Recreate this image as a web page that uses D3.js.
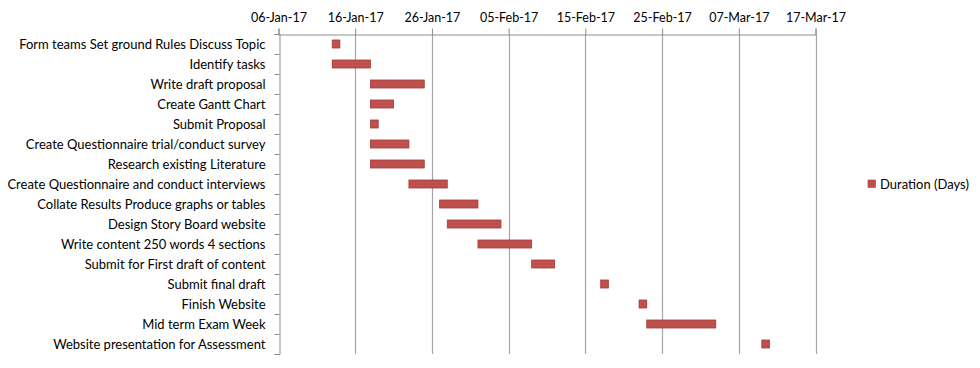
<!DOCTYPE html>
<html>
<head>
<meta charset="utf-8">
<script src="https://cdn.jsdelivr.net/npm/d3@7"></script>
<style>
  body { margin: 0; background: #fff; }
  text { font-family: Lato, "Open Sans", sans-serif; fill: #000; }
</style>
</head>
<body>
<div class="container"></div>
<script>
// tasks, start dates and durations (days)
const tasks = [
  'Form teams Set ground Rules Discuss Topic',
  'Identify tasks',
  'Write draft proposal',
  'Create Gantt Chart',
  'Submit Proposal',
  'Create Questionnaire trial/conduct survey',
  'Research existing Literature',
  'Create Questionnaire and conduct interviews',
  'Collate Results Produce graphs or tables',
  'Design Story Board website',
  'Write content 250 words 4 sections',
  'Submit for First draft of content',
  'Submit final draft',
  'Finish Website',
  'Mid term Exam Week',
  'Website presentation for Assessment'
];
const startDates = [
  '2017-01-13', '2017-01-13', '2017-01-18', '2017-01-18',
  '2017-01-18', '2017-01-18', '2017-01-18', '2017-01-23',
  '2017-01-27', '2017-01-28', '2017-02-01', '2017-02-08',
  '2017-02-17', '2017-02-22', '2017-02-23', '2017-03-10'
];
const durations = [1, 5, 7, 3, 1, 5, 7, 5, 5, 7, 7, 3, 1, 1, 9, 1];
const tickDates = ['2017-01-06', '2017-01-16', '2017-01-26', '2017-02-05',
                   '2017-02-15', '2017-02-25', '2017-03-07', '2017-03-17'];
const seriesName = 'Duration (Days)';

const width = 980, height = 368;
const plotLeft = 278.5, plotRight = 815.5, plotTop = 34, plotBottom = 354;
const day = 24 * 3600 * 1000;
const parse = d3.utcParse('%Y-%m-%d');

const data = tasks.map((name, i) => ({
  name: name,
  start: parse(startDates[i]),
  end: new Date(parse(startDates[i]).getTime() + durations[i] * day)
}));
const ticks = tickDates.map(parse);

const svg = d3.select('.container')
  .append('svg')
  .attr('width', width)
  .attr('height', height);

const x = d3.scaleUtc()
  .domain([ticks[0], ticks[ticks.length - 1]])
  .range([plotLeft, plotRight]);

const y = d3.scaleBand()
  .domain(tasks)
  .range([plotTop, plotBottom])
  .paddingInner(0.6)
  .paddingOuter(0.3);

// vertical gridlines
svg.append('g')
  .selectAll('line')
  .data(ticks.slice(1))
  .enter()
  .append('line')
  .attr('x1', d => Math.round(x(d)) + 0.5)
  .attr('x2', d => Math.round(x(d)) + 0.5)
  .attr('y1', plotTop)
  .attr('y2', plotBottom)
  .attr('stroke', '#a6a6a6')
  .attr('stroke-width', 1.2);

// top date axis
const xAxis = svg.append('g')
  .attr('transform', `translate(0,${plotTop + 0.5})`)
  .call(d3.axisTop(x).tickValues(ticks).tickFormat(d3.utcFormat('%d-%b-%y')).tickSizeOuter(0).tickSize(6).tickPadding(7));
xAxis.select('.domain').attr('stroke', '#8c8c8c');
xAxis.selectAll('.tick line').attr('stroke', '#8c8c8c');
xAxis.selectAll('.tick text').attr('font-size', '12.5px').attr('fill', '#000');

// left category axis: ticks on band boundaries
const yLin = d3.scaleLinear().domain([0, tasks.length]).range([plotTop, plotBottom]);
const yAxis = svg.append('g')
  .attr('transform', `translate(${Math.round(plotLeft) + 0.5},0)`)
  .call(d3.axisLeft(yLin).ticks(tasks.length).tickFormat('').tickSizeOuter(0).tickSize(5));
yAxis.select('.domain').attr('stroke', '#8c8c8c');
yAxis.selectAll('.tick line').attr('stroke', '#8c8c8c');

// category labels
svg.append('g')
  .selectAll('text')
  .data(tasks)
  .enter()
  .append('text')
  .attr('x', 265.5)
  .attr('y', d => y(d) + y.bandwidth() / 2)
  .attr('dy', '0.35em')
  .attr('text-anchor', 'end')
  .attr('font-size', '13px')
  .text(d => d);

// bars
svg.append('g')
  .selectAll('rect')
  .data(data)
  .enter()
  .append('rect')
  .attr('x', d => x(d.start))
  .attr('y', d => y(d.name))
  .attr('width', d => x(d.end) - x(d.start))
  .attr('height', y.bandwidth())
  .attr('fill', '#c0504d')
  .attr('stroke', '#a33b38')
  .attr('stroke-width', 0.8);

// legend
const legend = svg.append('g').attr('transform', 'translate(868,180)');
legend.append('rect')
  .attr('width', 7.5)
  .attr('height', 7.5)
  .attr('fill', '#c0504d')
  .attr('stroke', '#a33b38')
  .attr('stroke-width', 0.6);
legend.append('text')
  .attr('x', 12)
  .attr('y', 4)
  .attr('dy', '0.35em')
  .attr('font-size', '13px')
  .text(seriesName);
</script>
</body>
</html>
